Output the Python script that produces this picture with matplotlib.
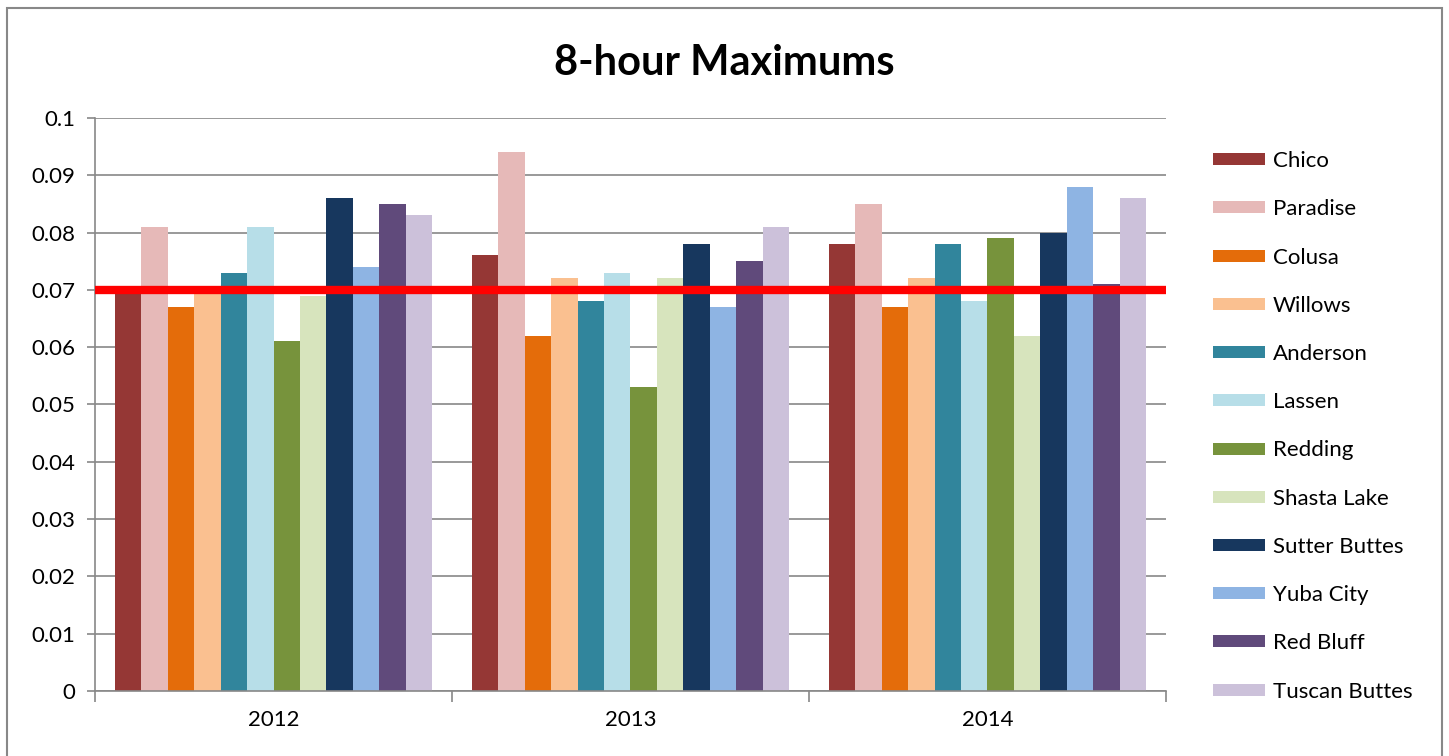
import numpy as np
import matplotlib.pyplot as plt
from matplotlib.patches import Rectangle

# data
years = ['2012', '2013', '2014']
sites = ['Chico', 'Paradise', 'Colusa', 'Willows', 'Anderson', 'Lassen', 'Redding',
         'Shasta Lake', 'Sutter Buttes', 'Yuba City', 'Red Bluff', 'Tuscan Buttes']
chico = [0.070, 0.076, 0.078]
paradise = [0.081, 0.094, 0.085]
colusa = [0.067, 0.062, 0.067]
willows = [0.070, 0.072, 0.072]
anderson = [0.073, 0.068, 0.078]
lassen = [0.081, 0.073, 0.068]
redding = [0.061, 0.053, 0.079]
shasta_lake = [0.069, 0.072, 0.062]
sutter_buttes = [0.086, 0.078, 0.080]
yuba_city = [0.074, 0.067, 0.088]
red_bluff = [0.085, 0.075, 0.071]
tuscan_buttes = [0.083, 0.081, 0.086]
standard = 0.070

series = [chico, paradise, colusa, willows, anderson, lassen, redding,
          shasta_lake, sutter_buttes, yuba_city, red_bluff, tuscan_buttes]
colors = ['#953735', '#E6B9B8', '#E46C0A', '#FAC090', '#31859C', '#B7DEE8',
          '#77933C', '#D7E4BD', '#17375E', '#8EB4E3', '#604A7B', '#CCC1DA']

plt.rcParams['font.family'] = ['Lato', 'DejaVu Sans']

fig = plt.figure(figsize=(14.49, 7.56), dpi=100)
fig.patches.append(Rectangle((0.005, -0.01), 0.99, 1.0, transform=fig.transFigure,
                             fill=False, edgecolor='#888888', linewidth=1.5))
ax = fig.add_axes([0.0656, 0.086, 0.739, 0.758])

n = len(sites)
w = 1.0 / (n + 1.5)
x = np.arange(len(years))
for i, (vals, c) in enumerate(zip(series, colors)):
    ax.bar(x - n * w / 2 + (i + 0.5) * w, vals, width=w, color=c, label=sites[i], zorder=2)

ax.axhline(standard, color='#FF0000', linewidth=6, zorder=3)

ax.set_xlim(-0.5, len(years) - 0.5)
ax.set_ylim(0, 0.1)
ax.set_yticks(np.arange(0, 0.101, 0.01))
ax.set_yticklabels(['0'] + ['%g' % v for v in np.arange(0.01, 0.101, 0.01)])
ax.yaxis.grid(True, color='#888888', linewidth=1.2, zorder=0)
ax.set_xticks(x)
ax.set_xticklabels(years)
ax.set_xticks(np.arange(-0.5, len(years), 1.0), minor=True)
ax.tick_params(axis='x', which='major', length=0, labelsize=16, pad=14)
ax.tick_params(axis='x', which='minor', length=8, width=1.2, color='#888888')
ax.tick_params(axis='y', length=6, width=1.2, color='#888888', labelsize=16, pad=8)
for s in ['top', 'right']:
    ax.spines[s].set_visible(False)
for s in ['left', 'bottom']:
    ax.spines[s].set_color('#888888')
    ax.spines[s].set_linewidth(1.2)

fig.text(0.5, 0.917, '8-hour Maximums', ha='center', va='center',
         fontsize=30, fontweight='bold')

ax.legend(loc='upper left', bbox_to_anchor=(1.025, 0.977), frameon=False,
          fontsize=16, labelspacing=1.27, handlelength=2.35, handleheight=0.45,
          handletextpad=0.35)

fig.savefig('out.png', dpi=100)
